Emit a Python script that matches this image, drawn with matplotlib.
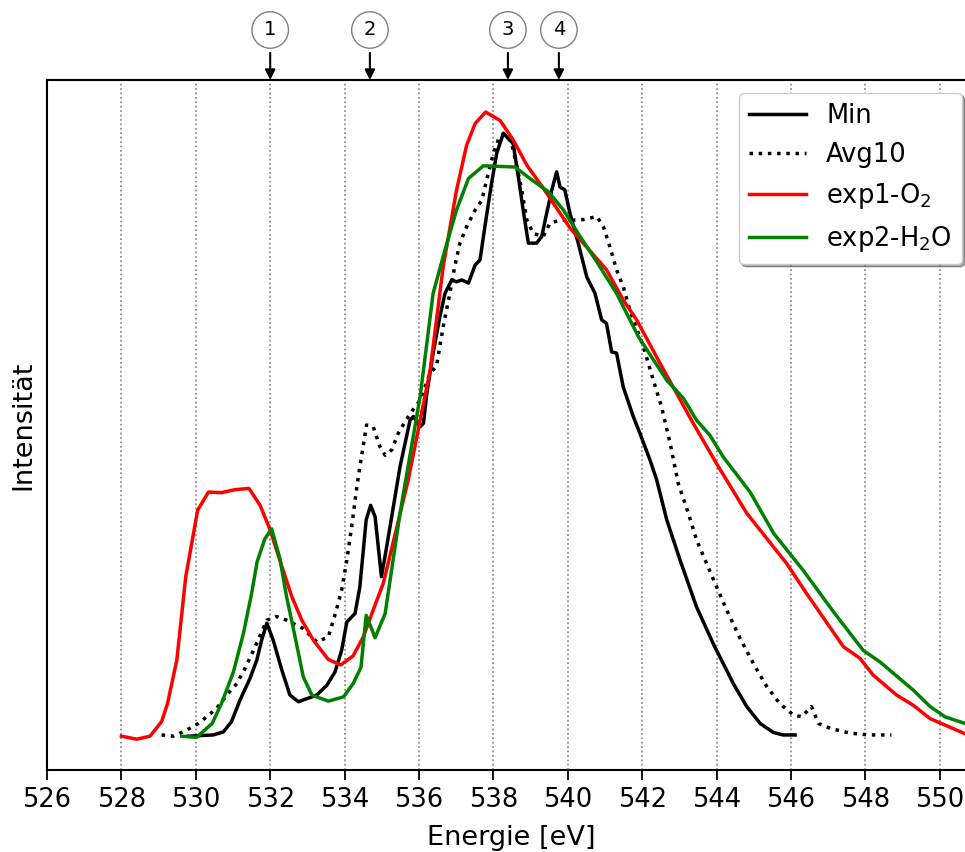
import matplotlib
matplotlib.use("Agg")
import matplotlib.pyplot as plt

# ---- data (intensity normalised, Min peak ~100) ----
min_x = [529.8, 530.47, 530.74, 530.96, 531.19, 531.46, 531.64, 531.77, 531.91, 532.08,
         532.31, 532.53, 532.76, 532.98, 533.25, 533.52, 533.74, 533.92, 534.06, 534.28,
         534.41, 534.58, 534.70, 534.82, 534.99, 535.13, 535.49, 535.76, 535.85, 536.03,
         536.12, 536.21, 536.38, 536.56, 536.70, 536.88, 537.01, 537.15, 537.33, 537.51,
         537.64, 537.77, 537.95, 538.09, 538.27, 538.40, 538.53, 538.67, 538.80, 538.94,
         539.16, 539.30, 539.43, 539.57, 539.70, 539.79, 539.92, 540.06, 540.28, 540.51,
         540.73, 540.91, 541.04, 541.18, 541.31, 541.49, 541.76, 541.94, 542.21, 542.39,
         542.66, 543.02, 543.46, 543.91, 544.18, 544.45, 544.81, 545.17, 545.53, 545.79,
         546.11]
min_y = [0.0, 0.2, 0.7, 2.4, 6.0, 9.6, 12.6, 15.9, 18.7, 15.9,
         11.0, 6.8, 5.7, 6.2, 6.8, 8.4, 10.6, 14.2, 18.9, 20.3,
         24.7, 35.8, 38.2, 36.3, 26.4, 31.3, 44.6, 52.3, 52.9, 51.2,
         51.8, 56.7, 63.4, 69.4, 73.3, 75.5, 75.2, 75.5, 75.0, 78.0,
         78.8, 84.3, 91.5, 96.5, 99.8, 98.9, 98.1, 92.6, 87.1, 81.6,
         81.6, 82.7, 86.5, 90.4, 93.4, 90.9, 90.4, 86.5, 81.6, 76.0,
         73.3, 68.9, 68.3, 63.6, 63.4, 57.8, 52.9, 50.1, 45.7, 42.4,
         35.8, 29.1, 21.4, 15.3, 12.0, 8.7, 4.9, 2.1, 0.6, 0.2,
         0.2]

avg_x = [529.08, 529.40, 529.75, 530.07, 530.29, 530.56, 530.83, 531.10, 531.32, 531.55,
         531.73, 531.91, 532.17, 532.44, 532.89, 533.25, 533.56, 533.78, 533.92, 534.06,
         534.19, 534.33, 534.41, 534.59, 534.77, 534.95, 535.09, 535.27, 535.44, 535.62,
         535.80, 536.03, 536.30, 536.47, 536.65, 536.83, 536.96, 537.10, 537.28, 537.51,
         537.69, 537.82, 538.00, 538.18, 538.36, 538.49, 538.63, 538.76, 538.90, 539.07,
         539.34, 539.52, 539.79, 540.06, 540.42, 540.78, 540.96, 541.13, 541.31, 541.49,
         541.67, 542.03, 542.30, 542.52, 542.75, 542.97, 543.24, 543.46, 543.73, 544.00,
         544.27, 544.63, 544.99, 545.35, 545.70, 546.06, 546.29, 546.55, 546.74, 547.05,
         547.59, 548.12, 548.70]
avg_y = [0.2, 0.0, 1.0, 2.1, 3.2, 4.6, 6.8, 8.7, 11.2, 14.2,
         16.7, 19.2, 19.8, 19.2, 17.8, 15.6, 16.4, 20.9, 24.2, 29.1,
         34.7, 41.3, 44.6, 51.5, 51.2, 47.9, 46.5, 47.4, 50.1, 52.0,
         53.7, 55.6, 60.1, 61.2, 67.8, 73.3, 77.7, 81.6, 84.3, 87.1,
         88.7, 92.1, 96.5, 99.5, 99.5, 98.1, 94.3, 90.4, 85.4, 83.2,
         82.7, 84.9, 85.4, 85.4, 85.5, 86.0, 84.3, 81.0, 77.2, 74.4,
         70.5, 64.5, 58.9, 54.5, 48.5, 41.8, 36.9, 32.5, 28.6, 24.7,
         20.9, 16.2, 12.0, 8.2, 5.4, 3.5, 3.2, 4.9, 2.1, 1.3,
         0.5, 0.2, 0.2]

exp1_x = [528.0, 528.41, 528.77, 529.08, 529.24, 529.49, 529.73, 530.05, 530.34, 530.69,
          531.05, 531.43, 531.73, 532.0, 532.26, 532.58, 532.85, 533.16, 533.56, 533.90,
          534.23, 534.5, 534.77, 535.04, 535.71, 536.30, 536.65, 537.01, 537.28, 537.51,
          537.79, 538.18, 538.53, 538.90, 539.34, 540.06, 541.04, 541.49, 541.85, 542.48,
          543.37, 544.0, 544.81, 545.88, 546.42, 547.41, 547.85, 548.21, 548.84, 549.29,
          549.74, 550.68, 551.2]
exp1_y = [0.0, -0.5, 0.0, 2.4, 5.4, 12.6, 26.4, 37.4, 40.4, 40.3,
          40.8, 41.0, 38.2, 34.1, 29.1, 23.1, 19.2, 15.9, 12.7, 11.8,
          13.3, 16.4, 20.9, 25.3, 42.4, 60.6, 77.7, 90.4, 97.8, 101.4,
          103.3, 101.9, 98.7, 94.5, 90.7, 84.1, 77.2, 72.2, 68.9, 61.7,
          51.8, 45.1, 36.9, 28.6, 23.6, 14.8, 12.9, 10.1, 6.8, 5.1,
          2.9, 0.4, -0.5]

exp2_x = [529.62, 530.02, 530.44, 530.69, 531.01, 531.28, 531.50, 531.65, 531.86, 532.04,
          532.26, 532.44, 532.67, 532.89, 533.12, 533.56, 533.97, 534.23, 534.44, 534.58,
          534.82, 535.09, 535.49, 536.03, 536.38, 536.70, 537.01, 537.33, 537.73, 538.58,
          538.98, 539.48, 539.88, 540.33, 540.78, 541.31, 541.90, 542.66, 543.11, 543.46,
          543.82, 544.18, 544.90, 545.53, 546.32, 547.14, 547.94, 548.39, 549.29, 549.74,
          550.14, 550.68, 551.2]
exp2_y = [0.0, -0.2, 2.1, 5.4, 10.6, 17.0, 23.6, 28.9, 32.7, 34.3,
          29.4, 23.1, 16.4, 9.8, 6.8, 5.8, 6.5, 8.7, 11.4, 20.0,
          16.3, 20.3, 36.9, 56.2, 73.3, 80.5, 87.1, 92.3, 94.4, 94.2,
          92.3, 90.1, 87.1, 82.7, 78.5, 73.3, 66.1, 58.9, 55.9, 52.3,
          49.8, 46.2, 40.4, 33.6, 27.5, 20.6, 14.2, 12.3, 7.6, 4.9,
          3.2, 2.1, 1.2]

series_labels = ["Min", "Avg10", "exp1-O$_2$", "exp2-H$_2$O"]
xticks = [526, 528, 530, 532, 534, 536, 538, 540, 542, 544, 546, 548, 550]
marker_x = [532.0, 534.68, 538.39, 539.76]
marker_labels = ["1", "2", "3", "4"]

# ---- figure ----
W, H = 965, 852
ax_left, ax_right, ax_top, ax_bottom = 47, 975, 80, 770
px_per_ev = 37.2

fig = plt.figure(figsize=(W / 100, H / 100), dpi=100)
ax = fig.add_axes([ax_left / W, 1 - ax_bottom / H,
                   (ax_right - ax_left) / W, (ax_bottom - ax_top) / H])

ax.plot(min_x, min_y, color="black", lw=2.5, label=series_labels[0])
ax.plot(avg_x, avg_y, color="black", lw=2.5, ls=":", label=series_labels[1])
ax.plot(exp1_x, exp1_y, color="red", lw=2.5, label=series_labels[2])
ax.plot(exp2_x, exp2_y, color="green", lw=2.5, label=series_labels[3])

ax.set_xlim(526, 526 + (ax_right - ax_left) / px_per_ev)
ax.set_ylim(-5.6, 108.6)
ax.set_xticks(xticks)
ax.set_yticks([])
ax.tick_params(axis="x", labelsize=18.5, length=7, width=1.3, pad=5)
ax.grid(axis="x", color="gray", ls=":", lw=1.2)
for s in ["left", "bottom", "top", "right"]:
    ax.spines[s].set_linewidth(1.5)

ax.set_xlabel("Energie [eV]", fontsize=19.5, labelpad=9)
ax.set_ylabel("Intensität", fontsize=19.5, labelpad=8)

leg = ax.legend(loc="upper right", fontsize=18.5, shadow=True, fancybox=True,
                borderaxespad=0.5, handlelength=2.2)

for xm, lab in zip(marker_x, marker_labels):
    ax.annotate(lab, xy=(xm, 1.0), xycoords=("data", "axes fraction"),
                xytext=(xm, 1.0 + 50 / 690), textcoords=("data", "axes fraction"),
                ha="center", va="center", fontsize=14,
                bbox=dict(boxstyle="circle,pad=0.45", fc="white", ec="gray", lw=1),
                arrowprops=dict(arrowstyle="-|>", color="black", lw=1.5,
                                mutation_scale=15, shrinkA=3, shrinkB=0),
                annotation_clip=False)

fig.savefig("out.png", dpi=100)
